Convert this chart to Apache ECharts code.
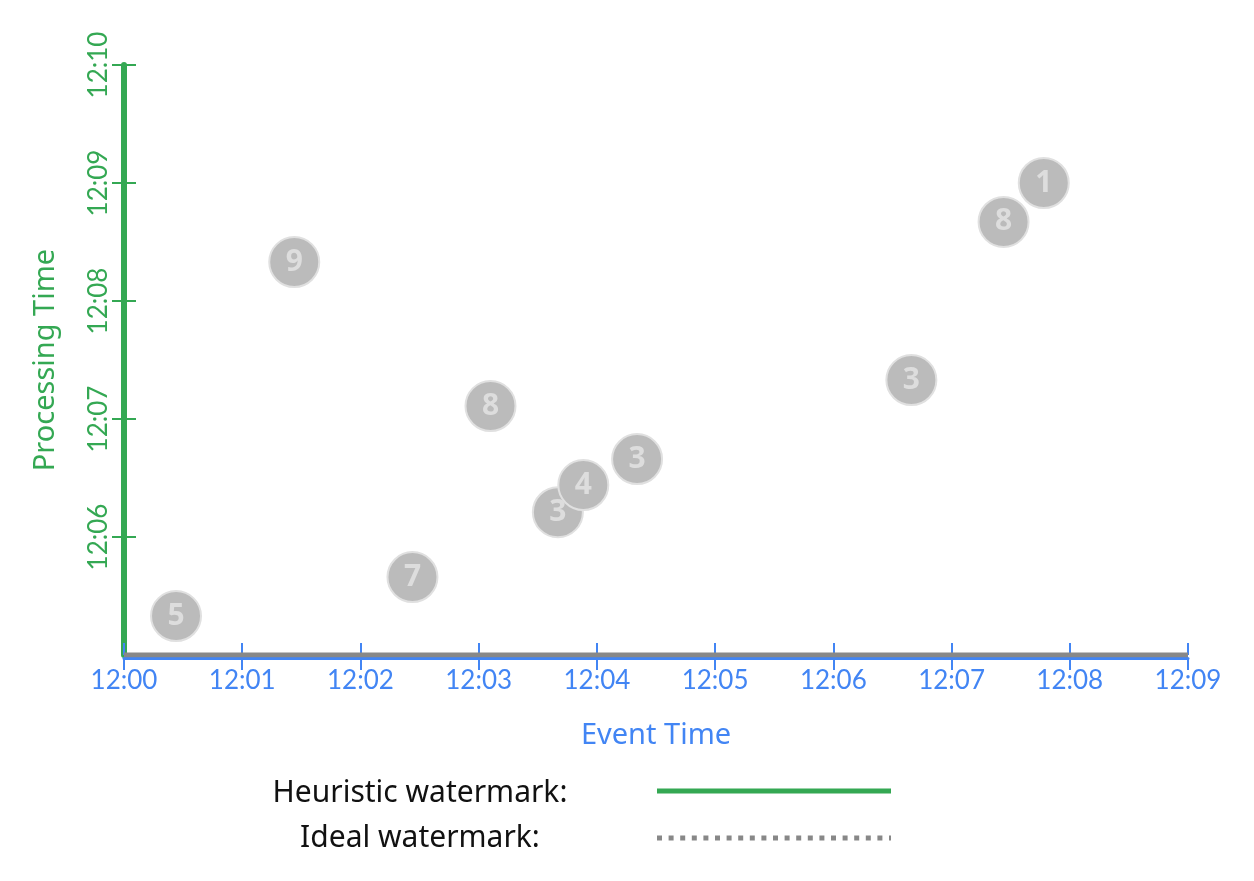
<!DOCTYPE html>
<html>
<head>
<meta charset="utf-8">
<title>Event Time vs Processing Time</title>
<script src="https://cdn.jsdelivr.net/npm/echarts@6/dist/echarts.min.js"></script>
<style>
  html, body { margin: 0; padding: 0; background: #fff; }
  #main { width: 1254px; height: 881px; }
</style>
</head>
<body>
<div id="main"></div>
<script>
// minutes after 12:00
var eventTime = [0.44, 1.44, 2.44, 3.10, 3.67, 3.885, 4.34, 6.66, 7.44, 7.78];
var procTime  = [5.33, 8.33, 5.66, 7.11, 6.21, 6.44, 6.66, 7.33, 8.67, 9.00];
var scores    = [5, 9, 7, 8, 3, 4, 3, 3, 8, 1];
var xTicks = ["12:00","12:01","12:02","12:03","12:04","12:05","12:06","12:07","12:08","12:09"];
var yTicks = ["12:05","12:06","12:07","12:08","12:09","12:10"];
var idealLine = [[0, 5], [9, 5]];

var GREEN = '#34a853', BLUE = '#4285f4', GREY = '#888888';
var LABEL_FONT = 'Lato';
var TEXT_FONT = '"Noto Sans"';

function fmtX(v) { return xTicks[Math.round(v)] || ''; }
function fmtY(v) { return yTicks[Math.round(v) - 5] || ''; }

var points = [];
for (var i = 0; i < eventTime.length; i++) {
  points.push([eventTime[i], procTime[i], scores[i]]);
}

var myChart = echarts.init(document.getElementById('main'));
var option = {
  animation: false,
  grid: { left: 124, right: 66, top: 65, bottom: 226 },
  xAxis: [{
    type: 'value', min: 0, max: 9, interval: 1,
    name: 'Event Time', nameLocation: 'middle', nameGap: 63,
    nameTextStyle: { color: BLUE, fontSize: 29, fontFamily: TEXT_FONT },
    offset: 3,
    axisLine: { show: true, lineStyle: { color: BLUE, width: 3 } },
    axisTick: { show: true, length: 12, lineStyle: { color: BLUE, width: 2 } },
    axisLabel: { color: BLUE, fontSize: 26, fontFamily: LABEL_FONT, margin: 10, formatter: fmtX },
    splitLine: { show: false }
  }, {
    type: 'value', min: 0, max: 9, interval: 1, position: 'bottom',
    axisLine: { show: false },
    axisTick: { show: true, inside: true, length: 12, lineStyle: { color: BLUE, width: 2 } },
    axisLabel: { show: false },
    splitLine: { show: false }
  }],
  yAxis: [{
    type: 'value', min: 5, max: 10, interval: 1,
    name: 'Processing Time', nameLocation: 'middle', nameGap: 64,
    nameTextStyle: { color: GREEN, fontSize: 29, fontFamily: TEXT_FONT },
    axisLine: { show: true, lineStyle: { color: GREEN, width: 6 } },
    axisTick: { show: true, length: 12, lineStyle: { color: GREEN, width: 2 } },
    axisLabel: {
      color: GREEN, fontSize: 26, fontFamily: LABEL_FONT, margin: 12,
      rotate: 90, align: 'center', verticalAlign: 'bottom',
      showMinLabel: false, formatter: fmtY
    },
    splitLine: { show: false }
  }, {
    type: 'value', min: 5, max: 10, interval: 1, position: 'left',
    axisLine: { show: false },
    axisTick: { show: true, inside: true, length: 12, lineStyle: { color: GREEN, width: 2 } },
    axisLabel: { show: false },
    splitLine: { show: false }
  }],
  series: [{
    name: 'Ideal watermark',
    type: 'line',
    data: idealLine,
    symbol: 'none',
    z: 1,
    lineStyle: { color: GREY, width: 5 }
  }, {
    name: 'Scores',
    type: 'scatter',
    data: points,
    symbolSize: 50,
    z: 3,
    itemStyle: { color: '#bbbbbb', borderColor: '#e0e0e0', borderWidth: 2, opacity: 1 },
    label: {
      show: true, position: 'inside',
      formatter: function (p) { return p.data[2]; },
      color: '#dddddd', fontSize: 30, fontWeight: 'bold', fontFamily: TEXT_FONT
    }
  }],
  graphic: [
    {
      type: 'text', x: 420, y: 793,
      style: { text: 'Heuristic watermark:', fill: '#111', font: '30px "Noto Sans"', textAlign: 'center', textVerticalAlign: 'middle' }
    },
    {
      type: 'text', x: 420, y: 838,
      style: { text: 'Ideal watermark:', fill: '#111', font: '30px "Noto Sans"', textAlign: 'center', textVerticalAlign: 'middle' }
    },
    {
      type: 'line', shape: { x1: 657, y1: 791, x2: 891, y2: 791 },
      style: { stroke: GREEN, lineWidth: 5 }
    },
    {
      type: 'line', shape: { x1: 657, y1: 838, x2: 891, y2: 838 },
      style: { stroke: GREY, lineWidth: 5, lineDash: [5, 6.6] }
    }
  ]
};
myChart.setOption(option);
</script>
</body>
</html>
